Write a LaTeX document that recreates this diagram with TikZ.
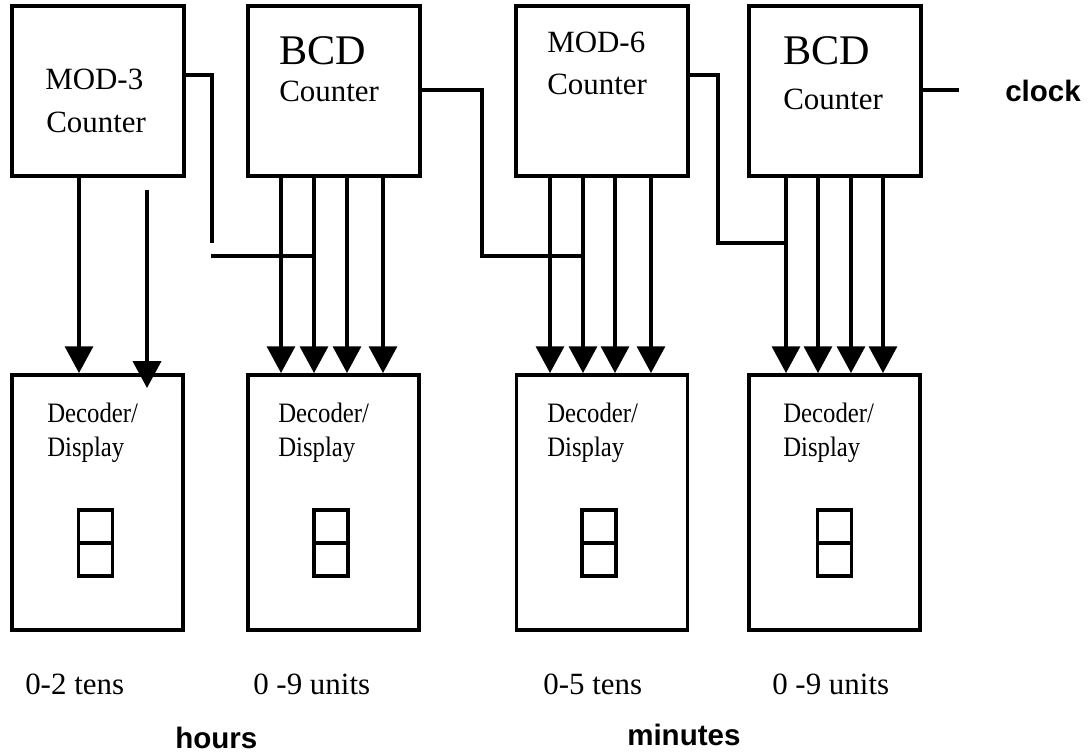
\documentclass[tikz,border=0pt]{standalone}
\usepackage{fontspec}
\setmainfont{Liberation Serif}
\newfontfamily\clocksans{Liberation Sans}
\newfontfamily\narrowserif[FakeStretch=0.88]{Liberation Serif}
\usetikzlibrary{arrows.meta}

\tikzset{
    counterbox/.style={draw, line width=2.7pt, minimum width=4.3cm, minimum height=4.25cm, inner sep=0pt},
    decoderbox/.style={draw, line width=2.7pt, minimum width=4.275cm, minimum height=6.375cm, inner sep=0pt},
    digitbox/.style={draw, line width=2.5pt, minimum width=0.85cm, minimum height=1.65cm, inner sep=0pt},
    wire/.style={line width=2.5pt},
    feed/.style={line width=2.5pt, -{Triangle[width=0.7cm, length=0.67cm]}},
    txt/.style={anchor=base west, inner sep=0pt},
    modfont/.style={font=\fontsize{22}{26}\selectfont},
    bcdfont/.style={font=\fontsize{30}{34}\selectfont},
    decfont/.style={font=\narrowserif\fontsize{20}{24}\selectfont},
    rangefont/.style={font=\fontsize{22}{26}\selectfont},
    groupfont/.style={font=\clocksans\bfseries\fontsize{21}{25}\selectfont}
}

\begin{document}
\begin{tikzpicture}[x=0.025cm, y=-0.025cm]
    \useasboundingbox (0,0) rectangle (1088,754);

    % counters on top
    \node [counterbox] (mod3) at (98,91) {};
    \node [counterbox] (bcd1) at (334,91) {};
    \node [counterbox] (mod6) at (602,91) {};
    \node [counterbox] (bcd2) at (835,91) {};

    \node [txt, modfont] (mod3a) at (45,90) {MOD-3};
    \node [txt, modfont] (mod3b) at (46,133) {Counter};
    \node [txt, bcdfont] (bcd1a) at (279,65) {BCD};
    \node [txt, modfont] (bcd1b) at (279,102) {Counter};
    \node [txt, modfont] (mod6a) at (547,53) {MOD-6};
    \node [txt, modfont] (mod6b) at (547,95) {Counter};
    \node [txt, bcdfont] (bcd2a) at (783,65) {BCD};
    \node [txt, modfont] (bcd2b) at (783,110) {Counter};

    % decoders below
    \node [decoderbox] (dec1) at (97.5,502.5) {};
    \node [decoderbox] (dec2) at (333.5,502.5) {};
    \node [decoderbox] (dec3) at (602,502.5) {};
    \node [decoderbox] (dec4) at (834.5,502.5) {};

    \foreach \x/\i in {47/1, 278/2, 547/3, 783/4} {
        \node [txt, decfont] (dtop\i) at (\x,423) {Decoder/};
        \node [txt, decfont] (dbot\i) at (\x,457) {Display};
    }

    % the little two-segment digits
    \foreach \x/\i in {95.5/1, 331/2, 599/3, 834.5/4} {
        \node [digitbox] (seg\i) at (\x,543) {};
        \draw [wire] (seg\i.west) -- (seg\i.east);
    }

    % outputs into the decoders
    \coordinate (loose) at (147,190);
    \coordinate (loosetip) at (147,388);
    \draw [feed] (79,0 |- mod3.south) -- (79,0 |- dec1.north);
    \draw [feed] (loose) -- (loosetip);
    \foreach \x in {281,314,347,383}
        \draw [feed] (\x,0 |- bcd1.south) -- (\x,0 |- dec2.north);
    \foreach \x in {550,583,615,651}
        \draw [feed] (\x,0 |- mod6.south) -- (\x,0 |- dec3.north);
    \foreach \x in {786,818,851,883}
        \draw [feed] (\x,0 |- bcd2.south) -- (\x,0 |- dec4.north);

    % carries between the counters
    \coordinate (carryA) at (212,243);
    \coordinate (carryB) at (211,256);
    \draw [wire] (mod3.east |- 0,75) -| (carryA);
    \draw [wire] (carryB) -- (314,256);
    \draw [wire] (bcd1.east |- 0,90) -| (482,256) -- (583,256);
    \draw [wire] (mod6.east |- 0,75) -| (718,243) -- (786,243);

    \coordinate (clkin) at (959,90);
    \draw [wire] (bcd2.east |- 0,90) -- (clkin);
    \node [txt, groupfont] (clock) at (1005,102) {clock};

    % ranges and groups
    \node [txt, rangefont] (r1) at (25,695) {0-2 tens};
    \node [txt, rangefont] (r2) at (253,695) {0 -9 units};
    \node [txt, rangefont] (r3) at (543,695) {0-5 tens};
    \node [txt, rangefont] (r4) at (772,695) {0 -9 units};
    \node [txt, groupfont] (hours) at (175,748) {hours};
    \node [txt, groupfont] (minutes) at (627,745) {minutes};
\end{tikzpicture}
\end{document}
